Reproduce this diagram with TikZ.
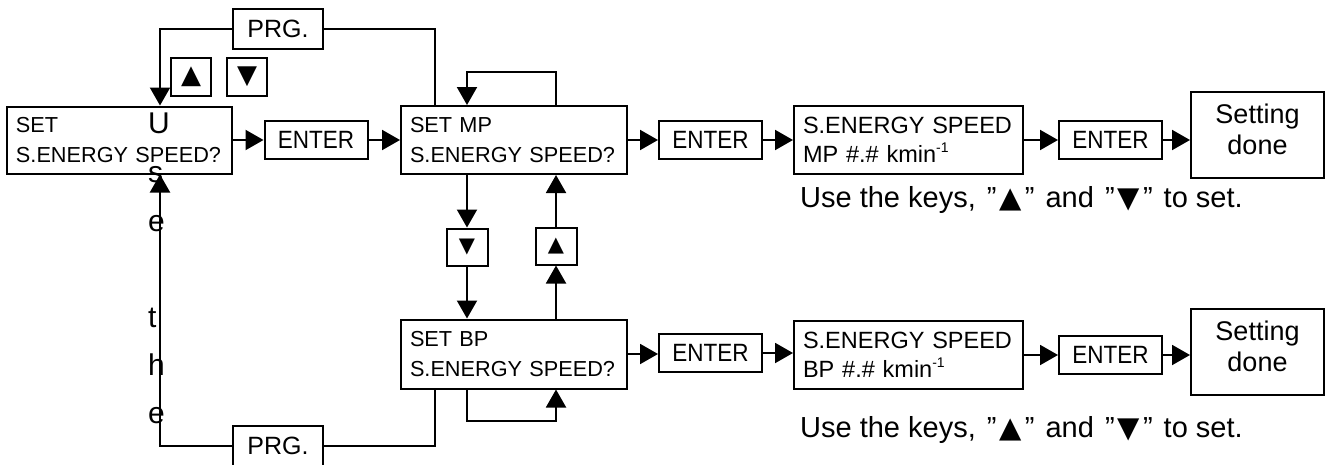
\documentclass[tikz,border=0pt]{standalone}
\usepackage{fontspec}
\setmainfont{Liberation Sans}
\newfontfamily\symfont{DejaVu Sans}
\usepackage{graphicx}
\usetikzlibrary{arrows.meta,calc}
\newcommand\myexp[1]{\raisebox{0.45em}{\fontsize{14}{14}\selectfont #1}}
\newcommand\entertxt{\scalebox{0.9}[1]{ENTER}}
\newcommand\qq{\kern3pt”\kern3pt}
\tikzset{
  ln/.style={line width=2pt},
  arr/.style={line width=2pt, -{Triangle[length=18pt,width=20pt]}},
  box/.style={draw, line width=2pt, inner sep=0pt},
  disp/.style={box, align=left, inner xsep=9pt, text width=#1, font=\fontsize{21.7}{30}\selectfont},
  disptwo/.style={box, align=left, inner xsep=9pt, text width=#1, font=\fontsize{23.5}{29}\selectfont},
  enterbox/.style={box, minimum width=103, minimum height=38, font=\fontsize{25}{25}\selectfont},
  prgbox/.style={box, minimum width=90, minimum height=40, font=\fontsize{25}{25}\selectfont},
  keybig/.style={box, minimum width=40, minimum height=38, font=\symfont\fontsize{26}{26}\selectfont},
  keysmall/.style={box, minimum width=41, minimum height=37, font=\symfont\fontsize{21}{21}\selectfont},
  donebox/.style={box, minimum width=133, minimum height=86, align=center, text depth=12pt, font=\fontsize{27}{31}\selectfont},
  vtext/.style={anchor=base west, inner sep=0pt, font=\fontsize{30}{30}\selectfont},
  hint/.style={anchor=base west, inner sep=0pt, font=\fontsize{29}{29}\selectfont}
}
\begin{document}
\begin{tikzpicture}[x=1pt,y=-1pt]
\fill[white] (0,0) rectangle (1329,464);
\useasboundingbox (0,0) rectangle (1329,464);

% displays
\node[disp=207, minimum height=67] (A) at (119.5,140) {SET\\S.ENERGY SPEED?};
\node[disp=208, minimum height=68] (B) at (514,140) {SET MP\\S.ENERGY SPEED?};
\node[disptwo=211, minimum height=68] (C) at (908.5,140) {S.ENERGY SPEED\\MP \#.\# kmin\myexp{-1}};
\node[disp=208, minimum height=69] (D) at (514,354) {SET BP\\S.ENERGY SPEED?};
\node[disptwo=211, minimum height=68] (E) at (908.5,355) {S.ENERGY SPEED\\BP \#.\# kmin\myexp{-1}};

% enter keys
\node[enterbox] (en1) at (316,140) {\entertxt};
\node[enterbox] (en2) at (710.5,140) {\entertxt};
\node[enterbox] (en3) at (710.5,353) {\entertxt};
\node[enterbox] (en4) at (1110.5,140) {\entertxt};
\node[enterbox] (en5) at (1110.5,355) {\entertxt};

% done boxes
\node[donebox] (done1) at (1257.5,135) {Setting\\done};
\node[donebox] (done2) at (1257.5,352) {Setting\\done};

% PRG boxes
\node[prgbox] (prg1) at (278,29) {PRG.};
\node[prgbox] (prg2) at (278,446) {PRG.};

% arrow keys
\node[keybig] (up1) at (191,77) {▲};
\node[keybig] (dn1) at (247,77) {▼};
\node[keysmall] (dn2) at (467,247) {▼};
\node[keysmall] (up2) at (556,246) {▲};

% vertical text
\foreach \ch/\yy/\nm in {U/133/v1, s/182/v2, e/231/v3, t/327/v4, h/375/v5, e/423/v6}
  \node[vtext] (\nm) at (148,\yy) {\ch};

% hints
\node[hint] (hint1) at (800,207) {Use the keys, \qq{\symfont ▲}\qq{} and \qq{\symfont ▼}\qq{} to set.};
\node[hint] (hint2) at (800,437) {Use the keys, \qq{\symfont ▲}\qq{} and \qq{\symfont ▼}\qq{} to set.};

% row connectors
\draw[arr] (A.east) -- (A.east -| en1.west);
\draw[arr] (en1.east) -- (en1.east -| B.west);
\draw[arr] (B.east) -- (B.east -| en2.west);
\draw[arr] (en2.east) -- (en2.east -| C.west);
\draw[arr] (C.east) -- (C.east -| en4.west);
\draw[arr] (en4.east) -- (en4.east -| done1.west);
\draw[arr] (D.east) -- (D.east -| en3.west);
\draw[arr] (en3.east) -- (en3.east -| E.west);
\draw[arr] (E.east) -- (E.east -| en5.west);
\draw[arr] (en5.east) -- (en5.east -| done2.west);

% PRG loops
\coordinate (bp) at ($(B.north west)+(35,0)$);
\coordinate (ap) at ($(A.north west)+(154,0)$);
\draw[ln] (bp) |- (prg1.east);
\draw[arr] (prg1.west) -| (ap);
\draw[ln] (D.south -| bp) |- (prg2.east);
\draw[arr] (prg2.west) -| (A.south -| ap);

% self loops
\draw[arr] (B.north -| up2) -- ++(0,-33) -| (B.north -| dn2);
\draw[arr] (D.south -| dn2) -- ++(0,31) -| (D.south -| up2);

% up/down between B and D
\draw[arr] (B.south -| dn2) -- (dn2.north);
\draw[arr] (dn2.south) -- (dn2.south |- D.north);
\draw[arr] (D.north -| up2) -- (up2.south);
\draw[arr] (up2.north) -- (up2.north |- B.south);
\end{tikzpicture}
\end{document}
